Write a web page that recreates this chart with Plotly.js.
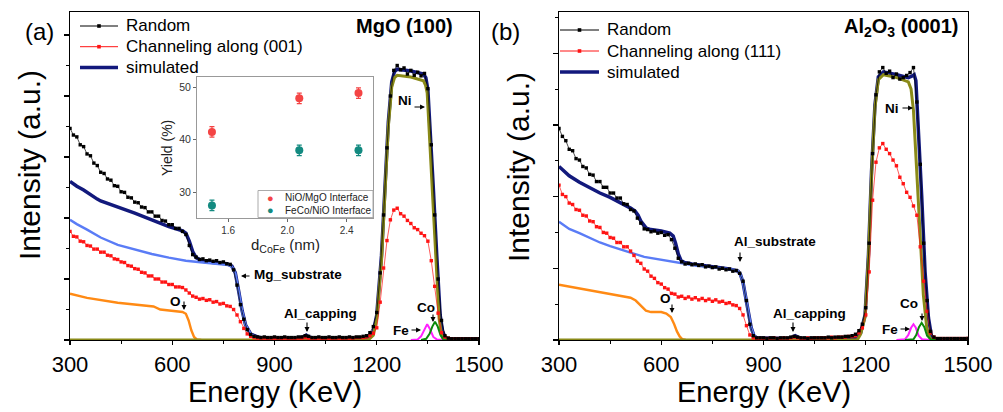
<!DOCTYPE html>
<html><head><meta charset="utf-8">
<script src="https://cdn.plot.ly/plotly-3.0.1.min.js"></script>
<style>html,body{margin:0;padding:0;background:#fff}#chart{width:1003px;height:412px}</style>
</head><body><div id="chart"></div>
<script>
// ---------- data (intensity in arbitrary units, energy in keV) ----------
const energy = [
 300,310,320,330,340,350,360,370,380,390,
 400,410,420,430,440,450,460,470,480,490,
 500,510,520,530,540,550,560,570,580,590,
 600,610,620,630,640,650,660,670,680,690,
 700,710,720,730,740,750,760,770,780,790,
 800,810,820,830,840,850,860,870,880,890,
 900,910,920,930,940,950,960,970,980,990,
 1000,1010,1020,1030,1040,1050,1060,1070,1080,1090,
 1100,1110,1120,1130,1140,1150,1160,1170,1180,1190,
 1200,1210,1220,1230,1240,1250,1260,1270,1280,1290,
 1300,1310,1320,1330,1340,1350,1360,1370,1380,1390,
 1400,1410,1420,1430,1440,1450,1460,1470,1480,1490,
 1500];

// (a) MgO (100)
const aRandom = [
 3.47,3.36,3.33,3.20,3.17,3.05,3.02,2.90,2.86,2.75,
 2.73,2.64,2.62,2.53,2.52,2.43,2.42,2.34,2.33,2.26,
 2.25,2.18,2.17,2.10,2.10,2.03,2.03,1.96,1.95,1.89,
 1.89,1.83,1.83,1.78,1.73,1.55,1.40,1.36,1.32,1.33,
 1.30,1.31,1.29,1.30,1.27,1.28,1.25,1.24,1.15,0.90,
 0.58,0.34,0.17,0.09,0.06,0.05,0.04,0.05,0.04,0.04,
 0.05,0.04,0.04,0.05,0.04,0.04,0.04,0.05,0.05,0.07,
 0.06,0.04,0.04,0.05,0.04,0.04,0.05,0.04,0.04,0.05,
 0.04,0.04,0.05,0.04,0.05,0.05,0.06,0.07,0.12,0.22,
 0.45,1.10,2.05,3.15,4.00,4.42,4.50,4.43,4.46,4.36,
 4.42,4.34,4.39,4.33,4.37,4.12,3.20,2.05,1.00,0.32,
 0.07,0.03,0.02,0.02,0.02,0.02,0.02,0.02,0.02,0.02,
 0.02];
const aChannel = [
 1.78,1.70,1.69,1.62,1.61,1.55,1.54,1.49,1.49,1.44,
 1.44,1.39,1.38,1.33,1.32,1.28,1.27,1.22,1.21,1.17,
 1.16,1.11,1.10,1.05,1.05,1.00,1.00,0.95,0.95,0.91,
 0.91,0.87,0.87,0.86,0.82,0.77,0.72,0.70,0.67,0.68,
 0.65,0.66,0.62,0.63,0.59,0.60,0.56,0.55,0.50,0.41,
 0.30,0.19,0.10,0.06,0.04,0.03,0.03,0.03,0.02,0.03,
 0.02,0.03,0.02,0.03,0.02,0.03,0.02,0.03,0.03,0.04,
 0.03,0.03,0.02,0.03,0.02,0.03,0.02,0.03,0.03,0.03,
 0.03,0.03,0.03,0.03,0.04,0.04,0.04,0.05,0.07,0.11,
 0.20,0.62,1.18,1.63,1.97,2.13,2.16,2.07,2.03,1.96,
 1.91,1.84,1.81,1.75,1.71,1.62,1.30,0.88,0.44,0.12,
 0.05,0.03,0.02,0.02,0.02,0.02,0.02,0.02,0.02,0.02,
 0.02];
const aSimE = [300,320,340,360,380,390,400,440,490,540,590,630,640,650,660,670,690,720,760,775,785,795,805,815,830,850,870,970,985,993,1001,1015,1160,1180,1190,1200,1207,1214,1224,1234,1244,1252,1260,1300,1337,1344,1350,1356,1366,1376,1386,1393,1400,1410,1500];
const aSimY = [2.60,2.52,2.46,2.38,2.31,2.28,2.26,2.19,2.08,1.97,1.86,1.79,1.75,1.62,1.45,1.35,1.29,1.27,1.25,1.21,1.10,0.80,0.48,0.25,0.10,0.05,0.03,0.03,0.05,0.08,0.05,0.03,0.03,0.06,0.14,0.41,0.90,1.39,2.49,3.58,4.23,4.40,4.44,4.41,4.36,4.30,4.10,3.58,2.49,1.39,0.41,0.15,0.05,0.02,0.02];
const aMgE = [300,320,350,390,440,490,540,590,640,690,740,765,775,785,795,805,815,830,850,870,890];
const aMgY = [1.97,1.90,1.81,1.68,1.56,1.48,1.41,1.35,1.30,1.27,1.25,1.23,1.20,1.10,0.80,0.48,0.25,0.10,0.03,0.01,0];
const aOE = [300,350,440,510,545,565,590,630,640,648,656,664,672,685];
const aOY = [0.76,0.69,0.61,0.57,0.55,0.50,0.48,0.46,0.43,0.32,0.16,0.05,0.01,0];
const aNiE = [300,1175,1190,1200,1214,1224,1234,1244,1252,1260,1300,1337,1343,1348,1353,1363,1373,1383,1390,1397,1500];
const aNiY = [0,0,0.08,0.35,1.30,2.40,3.50,4.15,4.30,4.34,4.31,4.25,4.18,4.05,3.50,2.40,1.30,0.35,0.08,0,0];
const aFeE = [1300,1320,1330,1340,1348,1356,1366,1376,1400];
const aFeY = [0,0.01,0.06,0.18,0.26,0.18,0.05,0.01,0];
const aCoE = [1330,1345,1355,1363,1371,1379,1387,1395,1410];
const aCoY = [0,0.02,0.10,0.22,0.30,0.22,0.08,0.01,0];

// (b) Al2O3 (0001)
const bRandom = [
 2.95,2.84,2.78,2.66,2.64,2.53,2.51,2.42,2.40,2.31,
 2.30,2.21,2.21,2.13,2.13,2.05,2.05,1.98,1.98,1.90,
 1.89,1.82,1.80,1.70,1.63,1.55,1.54,1.51,1.52,1.49,
 1.50,1.46,1.47,1.40,1.28,1.14,1.09,1.06,1.07,1.05,
 1.06,1.04,1.05,1.02,1.03,1.01,1.02,0.99,1.00,0.98,
 0.99,0.96,0.97,0.93,0.82,0.55,0.22,0.06,0.03,0.03,
 0.03,0.02,0.03,0.03,0.02,0.03,0.03,0.03,0.04,0.05,
 0.04,0.03,0.03,0.02,0.03,0.03,0.03,0.03,0.03,0.04,
 0.03,0.04,0.04,0.04,0.05,0.05,0.06,0.08,0.13,0.22,
 0.45,1.35,2.60,3.42,3.74,3.80,3.72,3.75,3.66,3.71,
 3.64,3.66,3.69,3.73,3.80,3.32,2.45,1.35,0.55,0.12,
 0.04,0.02,0.02,0.02,0.02,0.02,0.02,0.02,0.02,0.02,
 0.02];
const bChannel = [
 2.16,2.03,2.00,1.91,1.89,1.82,1.81,1.74,1.73,1.66,
 1.65,1.58,1.57,1.50,1.49,1.43,1.42,1.36,1.36,1.30,
 1.30,1.24,1.18,1.10,1.07,0.99,0.96,0.89,0.86,0.80,
 0.78,0.73,0.71,0.65,0.64,0.60,0.61,0.58,0.60,0.57,
 0.59,0.56,0.58,0.55,0.57,0.54,0.56,0.53,0.54,0.51,
 0.52,0.49,0.48,0.44,0.35,0.20,0.07,0.03,0.02,0.02,
 0.02,0.02,0.02,0.03,0.02,0.02,0.03,0.02,0.03,0.04,
 0.03,0.02,0.02,0.03,0.02,0.03,0.03,0.03,0.03,0.03,
 0.04,0.03,0.04,0.04,0.04,0.05,0.05,0.06,0.10,0.17,
 0.35,0.95,1.95,2.48,2.68,2.74,2.66,2.60,2.51,2.43,
 2.27,2.18,2.06,1.99,1.87,1.74,1.30,0.82,0.40,0.10,
 0.04,0.02,0.02,0.02,0.02,0.02,0.02,0.02,0.02,0.02,
 0.02];
const bSimE = [300,330,360,390,420,450,480,510,523,532,540,548,556,570,600,625,635,642,650,658,668,690,740,800,825,832,840,848,856,864,872,880,975,985,993,1001,1015,1170,1185,1198,1208,1217,1227,1237,1252,1291,1325,1335,1342,1347,1354,1364,1374,1384,1393,1405,1500];
const bSimY = [2.42,2.29,2.20,2.12,2.05,1.99,1.92,1.84,1.80,1.74,1.66,1.60,1.56,1.54,1.52,1.49,1.45,1.35,1.20,1.11,1.08,1.06,1.03,0.99,0.96,0.92,0.80,0.60,0.36,0.17,0.06,0.03,0.02,0.04,0.06,0.04,0.02,0.03,0.10,0.35,1.19,2.35,3.28,3.67,3.74,3.70,3.66,3.68,3.70,3.62,3.04,2.02,0.95,0.31,0.05,0.01,0.01];
const bAlE = [300,330,360,390,420,450,480,510,550,600,650,700,760,810,825,832,840,848,856,864,872,880,900];
const bAlY = [1.65,1.55,1.49,1.42,1.36,1.31,1.26,1.22,1.16,1.12,1.08,1.04,1.01,0.98,0.96,0.92,0.80,0.60,0.36,0.17,0.06,0.02,0];
const bOE = [300,360,420,480,510,525,540,555,570,600,615,628,638,646,654,662,672];
const bOY = [0.77,0.72,0.67,0.62,0.59,0.55,0.48,0.41,0.39,0.39,0.37,0.32,0.22,0.12,0.05,0.01,0];
const bNiE = [300,1175,1185,1198,1208,1217,1227,1237,1252,1291,1325,1333,1340,1350,1360,1369,1379,1388,1395,1500];
const bNiY = [0,0,0.08,0.32,1.15,2.30,3.24,3.63,3.70,3.66,3.60,3.50,3.20,2.35,1.37,0.63,0.17,0.03,0,0];
const bFeE = [1290,1315,1325,1333,1340,1347,1355,1365,1390];
const bFeY = [0,0.01,0.07,0.17,0.22,0.17,0.06,0.01,0];
const bCoE = [1315,1340,1348,1356,1364,1372,1380,1390,1410];
const bCoY = [0,0.01,0.07,0.18,0.24,0.18,0.06,0.01,0];

// inset: yield vs d_CoFe
const dCoFe = [1.49, 2.08, 2.48];
const yieldNiOMgO = [41.5, 47.9, 48.9];
const yieldFeCoNiO = [27.5, 38.0, 38.0];
const yieldErr = [1.0, 1.0, 1.0];

const xTicks = [300, 600, 900, 1200, 1500];
const legendA = ['Random', 'Channeling along (001)', 'simulated'];
const legendB = ['Random', 'Channeling along (111)', 'simulated'];
const insetNames = ['NiO/MgO Interface', 'FeCo/NiO Interface'];

// ---------- styling ----------
const W = 1003, H = 412;
const X = px => px / W;
const Y = py => 1 - py / H;
const FONT = 'Arial, "Liberation Sans", sans-serif';
const C = {navy:'#12197c', light:'#5a7cf6', orange:'#ff8a14', olive:'#8a8a18', magenta:'#ff20ff', green:'#0a8a0a', red:'#ff1414', black:'#000000', insRed:'#f44444', insTeal:'#138a80'};

function line(x, y, color, width, xa, ya, name) {
  return {x, y, xaxis: xa, yaxis: ya, type:'scatter', mode:'lines', name: name || '', line:{color, width}, showlegend:false, hoverinfo:'skip'};
}
function dots(x, y, color, name, xa, ya) {
  return {x, y, xaxis: xa, yaxis: ya, type:'scatter', mode:'lines+markers', name,
    line:{color, width:0.7}, marker:{color, size:3.4, symbol:'square'},
    showlegend:false, hoverinfo:'skip'};
}

const traces = [
  // panel a
  line(aSimE, aSimY, C.navy, 3.5, 'x', 'y', legendA[2]),
  line(aMgE, aMgY, C.light, 2.4, 'x', 'y'),
  line(aOE, aOY, C.orange, 2.4, 'x', 'y'),
  line(aNiE, aNiY, C.olive, 3, 'x', 'y'),
  line(aFeE, aFeY, C.magenta, 2, 'x', 'y'),
  line(aCoE, aCoY, C.green, 2, 'x', 'y'),
  dots(energy, aChannel, C.red, legendA[1], 'x', 'y'),
  dots(energy, aRandom, C.black, legendA[0], 'x', 'y'),
  // panel b
  line(bSimE, bSimY, C.navy, 3.5, 'x2', 'y2', legendB[2]),
  line(bAlE, bAlY, C.light, 2.4, 'x2', 'y2'),
  line(bOE, bOY, C.orange, 2.4, 'x2', 'y2'),
  line(bNiE, bNiY, C.olive, 3, 'x2', 'y2'),
  line(bFeE, bFeY, C.magenta, 2, 'x2', 'y2'),
  line(bCoE, bCoY, C.green, 2, 'x2', 'y2'),
  dots(energy, bChannel, C.red, legendB[1], 'x2', 'y2'),
  dots(energy, bRandom, C.black, legendB[0], 'x2', 'y2'),
  // inset
  {x:dCoFe, y:yieldNiOMgO, xaxis:'x3', yaxis:'y3', type:'scatter', mode:'markers', name:insetNames[0], showlegend:false, hoverinfo:'skip',
   marker:{color:C.insRed, size:8}, error_y:{type:'data', array:yieldErr, color:C.insRed, thickness:1.2, width:2.5}},
  {x:dCoFe, y:yieldFeCoNiO, xaxis:'x3', yaxis:'y3', type:'scatter', mode:'markers', name:insetNames[1], showlegend:false, hoverinfo:'skip',
   marker:{color:C.insTeal, size:8}, error_y:{type:'data', array:yieldErr, color:C.insTeal, thickness:1.2, width:2.5}}
];

const yDom = [1 - 340 / H, 1 - 12 / H];
function xAxis(dom, anchor) {
  return {domain: dom, anchor, range:[300, 1500], tickvals: xTicks, ticktext: xTicks.map(String),
    showline:true, mirror:true, linecolor:'#000', linewidth:1.3, ticks:'outside', ticklen:4, tickwidth:1.2, tickcolor:'#000',
    minor:{dtick:150, ticks:'outside', ticklen:2.5, tickcolor:'#000', tickwidth:1}, tick0:300,
    showgrid:false, zeroline:false, tickfont:{size:22, color:'#000', family:FONT}};
}
function yAxis(range, anchor) {
  return {domain: yDom, anchor, range, dtick:1, tick0:0, showticklabels:false,
    showline:true, mirror:true, linecolor:'#000', linewidth:1.3, ticks:'outside', ticklen:5, tickwidth:1.2, tickcolor:'#000',
    minor:{dtick:0.5, ticks:'outside', ticklen:3, tickcolor:'#000', tickwidth:1},
    showgrid:false, zeroline:false};
}

const annotations = [];
const shapes = [];
function txt(text, px, py, size, opts) {
  annotations.push(Object.assign({text, x:X(px), y:Y(py), xref:'paper', yref:'paper', showarrow:false,
    xanchor:'center', yanchor:'middle', font:{size, color:'#000', family:FONT}}, opts || {}));
}
function arrow(hx, hy, tx, ty) {
  annotations.push({text:'', x:X(hx), y:Y(hy), xref:'paper', yref:'paper', showarrow:true,
    ax: tx - hx, ay: ty - hy, arrowhead:2, arrowsize:0.9, arrowwidth:1.1, arrowcolor:'#000', standoff:0, startstandoff:0});
}
function legendRow(x0, x1, py, color, width, marker, label) {
  shapes.push({type:'line', xref:'paper', yref:'paper', x0:X(x0), x1:X(x1), y0:Y(py), y1:Y(py), line:{color, width}});
  if (marker) {
    const m = (x0 + x1) / 2;
    shapes.push({type:'rect', xref:'paper', yref:'paper', x0:X(m - 1.8), x1:X(m + 1.8), y0:Y(py + 1.8), y1:Y(py - 1.8), line:{width:0}, fillcolor:color});
  }
  txt(label, x1 + 6, py, 17, {xanchor:'left'});
}

// titles
txt('Intensity (a.u.)', 30, 165, 30, {textangle:-90});
txt('Intensity (a.u.)', 519, 167, 30, {textangle:-90});
txt('Energy (KeV)', 274.5, 392, 29);
txt('Energy (KeV)', 763.5, 392, 29);
txt('(a)', 39, 32, 24);
txt('(b)', 505, 32, 24);
txt('<b>MgO (100)</b>', 404.5, 26, 20);
txt('<b>Al<sub>2</sub>O<sub>3</sub> (0001)</b>', 901, 28, 20);

// legends
legendRow(80, 118, 26, C.black, 1, true, legendA[0]);
legendRow(80, 118, 46.7, C.red, 1, true, legendA[1]);
legendRow(80, 118, 67.5, C.navy, 3.5, false, legendA[2]);
legendRow(560, 599, 30, C.black, 1, true, legendB[0]);
legendRow(560, 599, 51, C.red, 1, true, legendB[1]);
legendRow(560, 599, 72, C.navy, 3.5, false, legendB[2]);

// panel a labels
const LF = 13.5;
txt('<b>Ni</b>', 405, 100, LF); arrow(425, 107, 413, 107);
txt('<b>Mg_substrate</b>', 297.5, 274, LF); arrow(241, 276, 251, 276);
txt('<b>O</b>', 175.5, 301, LF); arrow(184, 310, 184, 300);
txt('<b>Al_capping</b>', 320, 313, LF); arrow(307, 332, 307, 321);
txt('<b>Co</b>', 426, 307, LF); arrow(433, 322, 433, 313);
txt('<b>Fe</b>', 401, 330, LF); arrow(421, 330, 410, 330);
// panel b labels
txt('<b>Ni</b>', 892, 108, LF); arrow(913, 108, 901, 108);
txt('<b>Al_substrate</b>', 775, 242, LF); arrow(740, 262, 740, 251);
txt('<b>O</b>', 665, 298, LF); arrow(672, 313, 672, 303);
txt('<b>Al_capping</b>', 809, 313, LF); arrow(793, 332, 793, 321);
txt('<b>Co</b>', 909, 303, LF); arrow(922, 321, 922, 312);
txt('<b>Fe</b>', 890, 329, LF); arrow(910, 329, 899, 329);

// inset titles and legend
txt('Yield (%)', 167, 148, 14, {textangle:-90, font:{size:14, color:'#222', family:FONT}});
txt('d<sub>CoFe</sub> (nm)', 285, 246, 15, {font:{size:15, color:'#222', family:FONT}});
txt('●', 270, 197.5, 11, {font:{size:11, color:C.insRed, family:FONT}});
txt('●', 270, 210, 11, {font:{size:11, color:C.insTeal, family:FONT}});
txt(insetNames[0], 283, 197.5, 10, {xanchor:'left', font:{size:10, color:'#222', family:FONT}});
txt(insetNames[1], 283, 210, 10, {xanchor:'left', font:{size:10, color:'#222', family:FONT}});
shapes.push({type:'rect', xref:'paper', yref:'paper', x0:X(258), x1:X(373), y0:Y(217.5), y1:Y(190.5), line:{color:'#aaaaaa', width:1}, fillcolor:'rgba(255,255,255,0)'});

const layout = {
  width:W, height:H, margin:{l:0, r:0, t:0, b:0}, paper_bgcolor:'#fff', plot_bgcolor:'rgba(0,0,0,0)',
  font:{family:FONT, color:'#000'}, showlegend:false,
  xaxis: xAxis([70 / W, 479 / W], 'y'),
  yaxis: yAxis([0, 5.377], 'x'),
  xaxis2: xAxis([559 / W, 968 / W], 'y2'),
  yaxis2: yAxis([0, 4.575], 'x2'),
  xaxis3: {domain:[197 / W, 373 / W], anchor:'y3', range:[1.389, 2.578], tickvals:[1.6, 2.0, 2.4], ticktext:['1.6','2.0','2.4'],
    showline:true, mirror:true, linecolor:'#999', linewidth:1, ticks:'outside', ticklen:3, tickcolor:'#666',
    showgrid:false, zeroline:false, tickfont:{size:10, color:'#333', family:FONT}},
  yaxis3: {domain:[1 - 218 / H, 1 - 77 / H], anchor:'x3', range:[25.1, 51.96], tickvals:[30, 40, 50],
    showline:true, mirror:true, linecolor:'#999', linewidth:1, ticks:'outside', ticklen:3, tickcolor:'#666',
    showgrid:false, zeroline:false, tickfont:{size:10.5, color:'#333', family:FONT}},
  annotations, shapes
};

Plotly.newPlot('chart', traces, layout, {staticPlot:true, displayModeBar:false});
</script>
</body></html>
